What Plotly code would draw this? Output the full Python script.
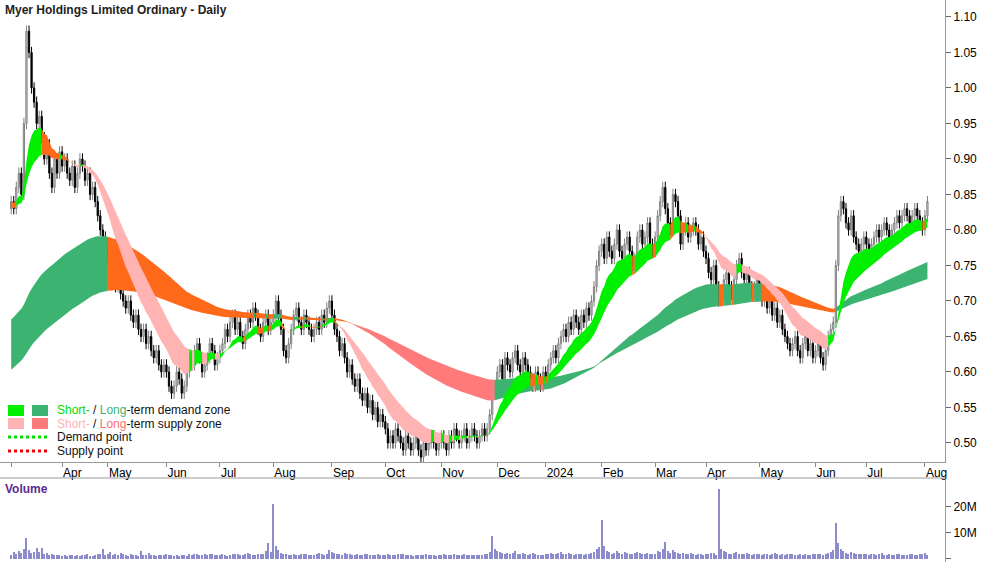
import plotly.graph_objects as go
import numpy as np

months = ["", "Apr", "May", "Jun", "Jul", "Aug", "Sep", "Oct", "Nov", "Dec", "2024",
          "Feb", "Mar", "Apr", "May", "Jun", "Jul", "Aug"]
closes_by_month = [
 [0.84,0.83,0.86,0.88,0.85,0.95,1.08,1.05,1.00,0.98,0.95,0.96,0.93,0.90,0.92,0.88,0.86,0.90,0.88,0.91],
 [0.89,0.90,0.88,0.87,0.89,0.86,0.88,0.90,0.89,0.87,0.88,0.85,0.86,0.84,0.82,0.80,0.79,0.78],
 [0.76,0.75,0.73,0.72,0.74,0.71,0.70,0.69,0.70,0.68,0.67,0.68,0.66,0.65,0.66,0.64,0.65,0.63,0.62,0.63,0.61,0.60,0.61],
 [0.60,0.58,0.57,0.58,0.60,0.59,0.57,0.58,0.60,0.62,0.61,0.63,0.64,0.62,0.60,0.61,0.62,0.64,0.63,0.61,0.62],
 [0.63,0.64,0.66,0.65,0.67,0.68,0.66,0.67,0.65,0.64,0.66,0.68,0.67,0.69,0.68,0.66,0.65,0.67,0.68,0.66,0.67],
 [0.68,0.70,0.68,0.66,0.63,0.62,0.64,0.66,0.68,0.69,0.67,0.66,0.68,0.67,0.66,0.65,0.66,0.67,0.66,0.68,0.67,0.69,0.70],
 [0.68,0.66,0.65,0.63,0.64,0.62,0.60,0.61,0.59,0.58,0.59,0.57,0.56,0.57,0.55,0.56,0.54,0.55,0.53,0.54,0.53],
 [0.52,0.50,0.51,0.50,0.52,0.51,0.50,0.49,0.51,0.50,0.49,0.50,0.51,0.49,0.48,0.50,0.49,0.50,0.51,0.50,0.49,0.50],
 [0.51,0.50,0.49,0.51,0.50,0.52,0.51,0.50,0.51,0.52,0.50,0.51,0.52,0.51,0.50,0.51,0.52,0.51,0.52,0.54,0.57,0.58],
 [0.60,0.61,0.59,0.62,0.61,0.60,0.62,0.63,0.61,0.60,0.62,0.61,0.60,0.59,0.58,0.60,0.59,0.58,0.60],
 [0.59,0.61,0.62,0.63,0.62,0.64,0.65,0.66,0.65,0.67,0.66,0.68,0.67,0.66,0.68,0.67,0.69,0.68,0.70,0.72,0.75,0.77],
 [0.78,0.76,0.79,0.77,0.76,0.78,0.80,0.77,0.76,0.78,0.79,0.77,0.75,0.76,0.79,0.80,0.78,0.79,0.81,0.78,0.77],
 [0.79,0.82,0.84,0.86,0.83,0.81,0.80,0.85,0.84,0.82,0.78,0.80,0.81,0.79,0.80,0.81,0.80,0.78,0.79,0.77],
 [0.76,0.74,0.73,0.75,0.72,0.70,0.71,0.73,0.74,0.72,0.71,0.73,0.75,0.76,0.74,0.73,0.74,0.72,0.71,0.72,0.73],
 [0.72,0.70,0.71,0.69,0.70,0.68,0.69,0.67,0.68,0.66,0.65,0.64,0.63,0.64,0.65,0.63,0.62,0.64,0.65,0.63,0.64,0.62],
 [0.63,0.64,0.62,0.61,0.63,0.65,0.66,0.67,0.75,0.82,0.84,0.83,0.81,0.80,0.82,0.79,0.78,0.77,0.78,0.79],
 [0.78,0.77,0.78,0.79,0.80,0.79,0.80,0.81,0.80,0.79,0.80,0.81,0.82,0.81,0.82,0.83,0.82,0.81,0.82,0.83,0.82,0.81,0.80],
 [0.82,0.84],
]
vol_by_month = [
 [1.5,2.5,1.8,3.0,2.2,4.0,8.0,3.5,2.4,2.8,4.2,2.6,4.2,2.0,2.4,1.6,1.8,1.4,1.6,1.5],
 [1.3,1.5,1.2,1.6,1.4,1.2,1.5,1.3,1.6,1.5,1.8,1.0,1.2,1.4,1.7,2.0,4.0,1.5],
 [1.8,2.5,1.4,2.0,1.6,2.4,2.0,1.6,1.2,1.8,1.4,1.5,1.3,3.0,1.6,1.5,2.2,1.4,1.6,1.3,1.5,1.6,1.4],
 [1.8,1.6,1.4,1.3,1.5,1.2,1.6,1.4,1.3,1.7,1.6,2.0,1.8,1.5,1.4,1.8,1.6,2.0,1.7,1.4,1.5],
 [1.6,1.8,1.5,1.3,1.4,1.7,1.9,2.0,1.5,1.6,1.8,2.4,1.7,1.5,1.6,1.8,2.0,1.7,3.0,6.0,2.5],
 [21.0,5.0,3.5,2.4,2.0,1.8,1.6,1.5,1.8,1.6,1.4,1.7,2.0,1.8,1.5,1.4,1.6,2.0,2.4,1.8,1.6,2.0,3.5],
 [2.8,2.2,2.0,1.8,1.6,2.4,2.0,1.8,1.6,1.5,1.7,1.4,1.6,1.8,2.0,1.5,1.4,1.6,1.8,1.5,1.4],
 [1.6,1.8,1.5,1.4,1.6,1.8,2.0,1.7,1.5,1.6,1.4,1.3,1.5,1.6,1.4,1.5,1.7,1.6,1.5,1.4,1.3,1.6],
 [1.5,1.7,1.4,1.6,1.5,1.8,1.6,1.4,1.5,1.7,1.6,1.4,1.5,1.6,1.4,1.5,1.6,1.8,2.0,2.8,9.0,4.0],
 [3.0,2.5,2.2,2.0,2.4,1.8,2.2,3.0,2.0,1.8,2.4,2.0,1.6,1.8,2.2,2.0,1.6,1.5,1.4],
 [1.8,2.0,2.2,1.9,1.7,2.1,2.5,2.0,1.8,2.2,1.7,1.6,1.8,2.0,1.7,1.6,1.9,2.0,2.3,2.6,4.0,4.5],
 [15.0,5.0,3.0,2.6,2.0,2.4,3.0,2.2,1.9,2.5,2.2,1.8,1.7,2.1,2.6,2.4,2.0,1.8,2.2,1.9,1.7],
 [2.0,3.0,2.6,4.0,6.5,3.0,2.4,3.5,2.8,2.2,1.8,2.4,2.0,1.8,2.2,1.7,1.6,1.9,1.8,1.6],
 [1.8,2.0,2.4,2.2,1.6,27.0,4.0,3.0,2.6,2.0,1.8,2.2,2.5,2.0,1.8,1.7,2.1,1.9,1.6,1.8,2.0],
 [1.8,1.6,2.0,1.7,1.5,1.8,2.2,1.9,1.6,1.8,1.5,1.7,2.0,1.8,1.6,1.5,1.8,1.6,1.7,1.5,1.6,1.9],
 [1.7,1.8,2.0,1.6,1.9,2.2,2.6,3.5,14.0,6.0,4.0,3.0,2.4,2.0,2.6,2.2,1.8,1.9,2.0,1.7],
 [1.8,1.6,2.0,1.7,1.5,1.8,2.2,1.6,1.5,1.7,1.4,1.6,2.0,1.8,1.5,1.4,1.6,1.8,1.7,1.5,1.6,1.9,2.0],
 [2.2,1.6],
]
short_seeds = (0.84, 0.83)
long_seeds = (0.67, 0.60)

close = np.array([c for m in closes_by_month for c in m])
vol = np.array([v for m in vol_by_month for v in m])
n = len(close)
idx = np.arange(n)
starts = np.cumsum([0] + [len(m) for m in closes_by_month])[:-1]

opn = np.concatenate([[close[0] - 0.01], close[:-1]])
wick = 0.008
high = np.maximum(opn, close) + wick
low = np.minimum(opn, close) - wick

def ema(x, p, seed):
    out = np.empty(len(x)); e = seed; a = 2 / (p + 1)
    for i, v in enumerate(x):
        e = e + a * (v - e); out[i] = e
    return out

s1, s2 = ema(close, 12, short_seeds[0]), ema(close, 25, short_seeds[1])
l1, l2 = ema(close, 90, long_seeds[0]), ema(close, 150, long_seeds[1])

fig = go.Figure()

def band(fast, slow, up_col, fade_col, down_col):
    lo, hi = np.minimum(fast, slow), np.maximum(fast, slow)
    mid = (fast + slow) / 2
    slope = np.diff(mid)
    slope = np.concatenate([[slope[0]], slope])
    cols = [up_col if slope[i] > 0 else (fade_col if fast[i] > slow[i] else down_col)
            for i in range(n)]
    i = 0
    while i < n:
        j = i
        while j + 1 < n and cols[j + 1] == cols[i]:
            j += 1
        e = min(j + 1, n - 1)
        xs = idx[i:e + 1]
        fig.add_trace(go.Scatter(x=xs, y=lo[i:e + 1], mode="lines", line=dict(width=0),
                                 hoverinfo="skip", showlegend=False, yaxis="y"))
        fig.add_trace(go.Scatter(x=xs, y=hi[i:e + 1], mode="lines", line=dict(width=0),
                                 fill="tonexty", fillcolor=cols[i], hoverinfo="skip",
                                 showlegend=False, yaxis="y"))
        i = j + 1

band(l1, l2, "#3cb371", "#ff6a1a", "#ff7b7b")
band(s1, s2, "#00f000", "#ff6a1a", "#ffb3b3")

fig.add_trace(go.Candlestick(x=idx, open=opn, high=high, low=low, close=close,
    increasing=dict(line=dict(color="#808080", width=1), fillcolor="#d8d8d8"),
    decreasing=dict(line=dict(color="#000000", width=1), fillcolor="#000000"),
    whiskerwidth=0, showlegend=False, xaxis="x", yaxis="y"))

fig.add_trace(go.Bar(x=idx, y=vol, marker=dict(color="#8c8ccc", line=dict(width=0)),
                     width=0.45, showlegend=False, xaxis="x2", yaxis="y2"))

xr = [-4.4, 366.9]
fig.update_layout(
    width=1000, height=562, margin=dict(l=0, r=0, t=0, b=0, autoexpand=False),
    paper_bgcolor="white", plot_bgcolor="white",
    font=dict(family="Liberation Sans, Arial", size=12, color="#000"),
    xaxis=dict(domain=[0, 0.945], range=xr, anchor="y", tickvals=starts, ticktext=months,
               ticks="outside", ticklen=4, tickcolor="#888", ticklabelposition="outside right",
               showline=True, linecolor="#999", showgrid=False, rangeslider=dict(visible=False),
               tickfont=dict(size=12), automargin=False),
    yaxis=dict(domain=[1 - 462 / 562, 1], range=[0.4732, 1.1239], side="right", anchor="x",
               tickvals=[0.5 + 0.05 * k for k in range(13)],
               ticktext=[f"{0.5 + 0.05 * k:.2f}" for k in range(13)],
               ticks="outside", ticklen=5, tickcolor="#666", showline=True, linecolor="#999",
               showgrid=False, zeroline=False, tickfont=dict(size=12), automargin=False),
    xaxis2=dict(domain=[0, 0.945], range=xr, anchor="y2", showticklabels=False, ticks="",
                showline=False, showgrid=False, automargin=False),
    yaxis2=dict(domain=[0, 82 / 562], range=[-1.2, 30.4], side="right", anchor="x2",
                tickvals=[0, 10, 20], ticktext=["0", "10M", "20M"], ticks="outside", ticklen=5,
                tickcolor="#666", showline=True, linecolor="#999", showgrid=False, zeroline=False,
                automargin=False),
    bargap=0,
)
fig.add_shape(type="line", xref="paper", yref="paper", x0=0, x1=0.945, y0=1 - 478 / 562,
              y1=1 - 478 / 562, line=dict(color="#999", width=1))
fig.add_annotation(text="<b>Myer Holdings Limited Ordinary - Daily</b>", xref="paper", yref="paper",
                   x=0.003, y=1 - 1 / 562, xanchor="left", yanchor="top", showarrow=False,
                   font=dict(size=12, color="#222"))
fig.add_annotation(text="<b>Volume</b>", xref="paper", yref="paper", x=0.003, y=1 - 480 / 562,
                   xanchor="left", yanchor="top", showarrow=False, font=dict(size=12, color="#5b2a8f"))

def px(x, y):
    return x / 1000, 1 - y / 562

for (x0, y0, x1, y1, c) in [(8, 405, 24, 416, "#00f000"), (32, 405, 48, 416, "#3cb371"),
                            (8, 418, 24, 429, "#ffb3b3"), (32, 418, 48, 429, "#ff7b7b")]:
    a, b = px(x0, y0); cc, d = px(x1, y1)
    fig.add_shape(type="rect", xref="paper", yref="paper", x0=a, y0=d, x1=cc, y1=b,
                  fillcolor=c, line=dict(width=0))
for (y, c) in [(437, "#00dd00"), (451, "#ee0000")]:
    a, b = px(8, y); cc, _ = px(48, y)
    fig.add_shape(type="line", xref="paper", yref="paper", x0=a, y0=b, x1=cc, y1=b,
                  line=dict(color=c, width=3, dash="dot"))
legend_texts = [
    (410, "<span style='color:#00e000'>Short-</span> / <span style='color:#3cb371'>Long</span>-term demand zone"),
    (424, "<span style='color:#ffb3b3'>Short-</span> / <span style='color:#ff7070'>Long</span>-term supply zone"),
    (437, "Demand point"),
    (451, "Supply point"),
]
for y, t in legend_texts:
    a, b = px(55, y)
    fig.add_annotation(text=t, xref="paper", yref="paper", x=a, y=b, xanchor="left",
                       yanchor="middle", showarrow=False, font=dict(size=12, color="#111"))

fig.write_html("out.html", config={"displayModeBar": False},
               post_script="document.body.style.margin='0';document.body.style.overflow='hidden';")
